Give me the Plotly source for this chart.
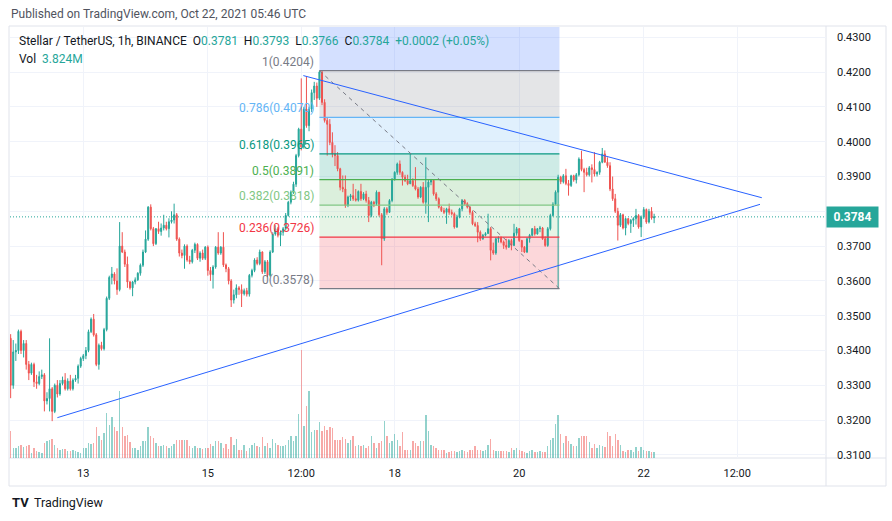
import plotly.graph_objects as go
from datetime import datetime, timedelta

# ---------------- data ----------------
start_time = "2021-10-11 20:00"   # first (partly hidden) hourly candle
first_open = 0.3435

closes = [
    0.3300, 0.3396, 0.3400, 0.3455, 0.3400, 0.3420, 0.3360, 0.3335, 0.3360, 0.3310,
    0.3305, 0.3325, 0.3330, 0.3255, 0.3262, 0.3290, 0.3225, 0.3300, 0.3275, 0.3305,
    0.3315, 0.3290, 0.3312, 0.3290, 0.3315, 0.3320, 0.3355, 0.3377, 0.3385, 0.3400,
    0.3454, 0.3490, 0.3445, 0.3360, 0.3415, 0.3405, 0.3460, 0.3550, 0.3610, 0.3620,
    0.3600, 0.3575, 0.3700, 0.3683, 0.3648, 0.3597, 0.3580, 0.3597, 0.3603, 0.3622,
    0.3645, 0.3683, 0.3720, 0.3812, 0.3750, 0.3707, 0.3750, 0.3742, 0.3752, 0.3760,
    0.3750, 0.3770, 0.3775, 0.3790, 0.3720, 0.3680, 0.3673, 0.3700, 0.3660, 0.3655,
    0.3688, 0.3705, 0.3665, 0.3680, 0.3665, 0.3697, 0.3630, 0.3618, 0.3640, 0.3697,
    0.3680, 0.3697, 0.3646, 0.3635, 0.3600, 0.3545, 0.3560, 0.3580, 0.3575, 0.3563,
    0.3572, 0.3562, 0.3616, 0.3630, 0.3660, 0.3650, 0.3683, 0.3626, 0.3655, 0.3616,
    0.3683, 0.3735, 0.3750, 0.3731, 0.3740, 0.3750, 0.3788, 0.3826, 0.3855, 0.3878,
    0.3960, 0.4036, 0.3985, 0.4094, 0.4046, 0.4094, 0.4141, 0.4160, 0.4125, 0.4200,
    0.4113, 0.4061, 0.4050, 0.3998, 0.3965, 0.3960, 0.3922, 0.3869, 0.3864, 0.3817,
    0.3841, 0.3845, 0.3836, 0.3832, 0.3857, 0.3836, 0.3850, 0.3831, 0.3788, 0.3826,
    0.3822, 0.3855, 0.3790, 0.3721, 0.3807, 0.3797, 0.3831, 0.3893, 0.3912, 0.3936,
    0.3912, 0.3898, 0.3888, 0.3879, 0.3888, 0.3874, 0.3864, 0.3841, 0.3869, 0.3826,
    0.3869, 0.3884, 0.3889, 0.3850, 0.3836, 0.3812, 0.3802, 0.3797, 0.3807, 0.3797,
    0.3793, 0.3755, 0.3783, 0.3807, 0.3831, 0.3822, 0.3812, 0.3797, 0.3764, 0.3759,
    0.3740, 0.3721, 0.3731, 0.3736, 0.3750, 0.3688, 0.3680, 0.3721, 0.3724, 0.3712,
    0.3702, 0.3697, 0.3716, 0.3702, 0.3737, 0.3750, 0.3716, 0.3697, 0.3683, 0.3721,
    0.3731, 0.3750, 0.3735, 0.3750, 0.3752, 0.3721, 0.3702, 0.3750, 0.3788, 0.3820,
    0.3855, 0.3898, 0.3885, 0.3902, 0.3880, 0.3874, 0.3902, 0.3890, 0.3905, 0.3950,
    0.3920, 0.3912, 0.3905, 0.3925, 0.3920, 0.3907, 0.3912, 0.3941, 0.3965, 0.3941,
    0.3931, 0.3864, 0.3836, 0.3800, 0.3760, 0.3790, 0.3752, 0.3779, 0.3765, 0.3774,
    0.3779, 0.3788, 0.3755, 0.3783, 0.3805, 0.3769, 0.3800, 0.3781, 0.3784,
]

highs = [
    0.3447, 0.3430, 0.3420, 0.3460, 0.3460, 0.3430, 0.3430, 0.3370, 0.3365, 0.3365,
    0.3330, 0.3340, 0.3345, 0.3335, 0.3280, 0.3435, 0.3295, 0.3305, 0.3315, 0.3315,
    0.3325, 0.3335, 0.3320, 0.3330, 0.3320, 0.3330, 0.3360, 0.3382, 0.3390, 0.3410,
    0.3460, 0.3495, 0.3505, 0.3450, 0.3420, 0.3425, 0.3465, 0.3555, 0.3615, 0.3640,
    0.3625, 0.3636, 0.3769, 0.3740, 0.3690, 0.3670, 0.3600, 0.3600, 0.3610, 0.3625,
    0.3650, 0.3690, 0.3745, 0.3815, 0.3820, 0.3755, 0.3752, 0.3770, 0.3765, 0.3790,
    0.3770, 0.3780, 0.3800, 0.3822, 0.3795, 0.3725, 0.3690, 0.3705, 0.3705, 0.3672,
    0.3692, 0.3710, 0.3708, 0.3685, 0.3690, 0.3700, 0.3702, 0.3640, 0.3645, 0.3700,
    0.3740, 0.3700, 0.3740, 0.3650, 0.3640, 0.3605, 0.3575, 0.3590, 0.3585, 0.3590,
    0.3578, 0.3580, 0.3620, 0.3635, 0.3665, 0.3668, 0.3690, 0.3685, 0.3660, 0.3660,
    0.3688, 0.3740, 0.3760, 0.3755, 0.3745, 0.3755, 0.3795, 0.3830, 0.3860, 0.3885,
    0.3965, 0.4040, 0.4182, 0.4100, 0.4188, 0.4100, 0.4150, 0.4172, 0.4170, 0.4204,
    0.4204, 0.4122, 0.4070, 0.4065, 0.4027, 0.3990, 0.3970, 0.3925, 0.3903, 0.3903,
    0.3845, 0.3850, 0.3879, 0.3864, 0.3860, 0.3879, 0.3855, 0.3859, 0.3841, 0.3830,
    0.3830, 0.3860, 0.3850, 0.3795, 0.3812, 0.3812, 0.3835, 0.3895, 0.3915, 0.3940,
    0.3946, 0.3915, 0.3905, 0.3905, 0.3965, 0.3895, 0.3927, 0.3870, 0.3872, 0.3884,
    0.3955, 0.3890, 0.3893, 0.3890, 0.3855, 0.3840, 0.3815, 0.3810, 0.3810, 0.3822,
    0.3805, 0.3797, 0.3790, 0.3810, 0.3835, 0.3835, 0.3826, 0.3815, 0.3802, 0.3770,
    0.3769, 0.3745, 0.3735, 0.3740, 0.3793, 0.3755, 0.3710, 0.3725, 0.3728, 0.3728,
    0.3716, 0.3721, 0.3720, 0.3721, 0.3764, 0.3755, 0.3752, 0.3718, 0.3700, 0.3725,
    0.3735, 0.3752, 0.3758, 0.3752, 0.3758, 0.3755, 0.3728, 0.3755, 0.3793, 0.3826,
    0.3860, 0.3905, 0.3902, 0.3907, 0.3922, 0.3890, 0.3905, 0.3905, 0.3910, 0.3955,
    0.3974, 0.3925, 0.3925, 0.3930, 0.3935, 0.3970, 0.3915, 0.3945, 0.3982, 0.3975,
    0.3955, 0.3941, 0.3900, 0.3850, 0.3810, 0.3795, 0.3793, 0.3782, 0.3780, 0.3778,
    0.3783, 0.3807, 0.3792, 0.3788, 0.3812, 0.3808, 0.3807, 0.3812, 0.3793,
]

lows = [
    0.3263, 0.3290, 0.3370, 0.3390, 0.3390, 0.3380, 0.3345, 0.3315, 0.3330, 0.3295,
    0.3290, 0.3300, 0.3318, 0.3225, 0.3245, 0.3225, 0.3197, 0.3220, 0.3265, 0.3270,
    0.3300, 0.3285, 0.3285, 0.3285, 0.3285, 0.3310, 0.3305, 0.3350, 0.3370, 0.3375,
    0.3395, 0.3450, 0.3440, 0.3355, 0.3345, 0.3400, 0.3400, 0.3455, 0.3545, 0.3590,
    0.3590, 0.3560, 0.3570, 0.3680, 0.3640, 0.3580, 0.3575, 0.3556, 0.3590, 0.3600,
    0.3615, 0.3640, 0.3680, 0.3715, 0.3745, 0.3700, 0.3703, 0.3735, 0.3730, 0.3745,
    0.3745, 0.3725, 0.3765, 0.3765, 0.3715, 0.3670, 0.3665, 0.3635, 0.3655, 0.3648,
    0.3650, 0.3680, 0.3660, 0.3655, 0.3660, 0.3660, 0.3615, 0.3600, 0.3578, 0.3635,
    0.3675, 0.3675, 0.3640, 0.3625, 0.3590, 0.3525, 0.3535, 0.3550, 0.3560, 0.3525,
    0.3558, 0.3555, 0.3555, 0.3610, 0.3625, 0.3645, 0.3645, 0.3620, 0.3620, 0.3610,
    0.3612, 0.3680, 0.3730, 0.3725, 0.3700, 0.3730, 0.3745, 0.3785, 0.3820, 0.3850,
    0.3870, 0.3955, 0.3975, 0.3980, 0.4040, 0.4030, 0.4085, 0.4120, 0.4100, 0.4120,
    0.4105, 0.4055, 0.3960, 0.3990, 0.3955, 0.3930, 0.3915, 0.3860, 0.3855, 0.3810,
    0.3812, 0.3830, 0.3830, 0.3828, 0.3828, 0.3830, 0.3832, 0.3825, 0.3769, 0.3783,
    0.3812, 0.3817, 0.3785, 0.3645, 0.3715, 0.3790, 0.3795, 0.3826, 0.3888, 0.3905,
    0.3905, 0.3874, 0.3884, 0.3875, 0.3880, 0.3870, 0.3860, 0.3836, 0.3838, 0.3822,
    0.3793, 0.3769, 0.3875, 0.3845, 0.3830, 0.3808, 0.3798, 0.3792, 0.3764, 0.3790,
    0.3788, 0.3750, 0.3752, 0.3780, 0.3800, 0.3818, 0.3808, 0.3790, 0.3760, 0.3755,
    0.3711, 0.3715, 0.3718, 0.3728, 0.3745, 0.3659, 0.3675, 0.3675, 0.3710, 0.3708,
    0.3692, 0.3690, 0.3695, 0.3688, 0.3700, 0.3730, 0.3712, 0.3683, 0.3680, 0.3680,
    0.3710, 0.3728, 0.3730, 0.3733, 0.3740, 0.3718, 0.3698, 0.3698, 0.3745, 0.3785,
    0.3820, 0.3578, 0.3878, 0.3880, 0.3875, 0.3845, 0.3870, 0.3885, 0.3880, 0.3900,
    0.3915, 0.3855, 0.3900, 0.3900, 0.3883, 0.3900, 0.3900, 0.3905, 0.3938, 0.3940,
    0.3925, 0.3858, 0.3830, 0.3795, 0.3716, 0.3755, 0.3748, 0.3731, 0.3760, 0.3738,
    0.3755, 0.3762, 0.3750, 0.3726, 0.3778, 0.3764, 0.3765, 0.3776, 0.3766,
]

# volume in millions
volumes = [
    16, 6, 6, 7, 8, 6.6, 7.4, 8, 3, 6,
    4, 3.4, 3, 9, 10.4, 11, 11.4, 8, 6, 5,
    5.4, 5.4, 4, 4, 5, 4, 3.4, 3, 6, 6,
    9, 8.6, 9, 18.6, 13, 11, 15, 27, 20, 24.6,
    18.6, 16, 40, 18.6, 13, 14, 9.4, 6, 6, 5,
    7, 10.4, 10.4, 18.6, 13.4, 12, 9, 7, 7.4, 8,
    7, 6, 7, 8.6, 11, 11, 11, 11, 10.6, 7,
    6, 7, 6, 6, 5.4, 6, 6, 8.6, 7, 10.4,
    10.4, 9, 6, 8.6, 5.4, 12.4, 8, 11.4, 5, 5,
    8, 4.4, 6, 8, 9, 7, 6.6, 12.4, 7, 9,
    6, 11.6, 9, 8, 7, 7.4, 8, 11, 13.4, 10,
    13, 26.6, 65, 19.4, 31.4, 40, 15.4, 16.6, 16.6, 21.4,
    16, 19, 17, 18.4, 18, 11, 11, 11, 12.6, 11.4,
    9, 11, 13.4, 7.4, 8, 7.4, 8, 6, 7, 13.4,
    9, 6, 9, 10, 22, 13, 9, 10, 14.6, 11,
    7, 15.4, 5, 4.6, 4.6, 10, 9, 7.4, 10, 10,
    25.6, 16, 8, 7, 6, 4.6, 5, 5, 3, 3.4,
    4, 4, 3.4, 4, 5, 4, 3.4, 4.6, 5, 7.4,
    5, 5, 4.4, 5, 8, 11.6, 5, 4.4, 4.4, 4.4,
    4.4, 4.4, 3.8, 6.2, 5, 6.2, 5, 4, 3.4, 3,
    4.4, 5, 3.4, 3.4, 4, 3.4, 3.4, 7, 11, 12.2,
    20.6, 26, 14.6, 8.8, 13.4, 10.4, 8.6, 7, 7.4, 12.2,
    13.4, 13, 13, 9.8, 5.8, 8.6, 5.8, 8, 7, 6.4,
    15.8, 13, 7.4, 14.6, 11, 8, 4.4, 3.8, 5, 5,
    3.4, 6.8, 4.4, 6.8, 5, 4.4, 4.4, 3.8, 3.8,
]

fib_ratio_labels = ["1", "0.786", "0.618", "0.5", "0.382", "0.236", "0"]
fib_prices = [0.4204, 0.4070, 0.3965, 0.3891, 0.3818, 0.3726, 0.3578]
fib_ext_price = 0.4591            # 1.618 level, above the visible range
fib_times = ["2021-10-16 19:00", "2021-10-20 15:30"]

upper_trend_t = ["2021-10-16 12:48", "2021-10-23 21:30"]
upper_trend_p = [0.4190, 0.3839]
lower_trend_t = ["2021-10-12 14:00", "2021-10-23 20:48"]
lower_trend_p = [0.3207, 0.3820]

last_price = 0.3784
price_ticks = [0.31, 0.32, 0.33, 0.34, 0.35, 0.36, 0.37, 0.38, 0.39, 0.40, 0.41, 0.42, 0.43]
time_tickvals = ["2021-10-13", "2021-10-15", "2021-10-16 12:00", "2021-10-18",
                 "2021-10-20", "2021-10-22", "2021-10-23 12:00"]
time_ticktext = ["13", "15", "12:00", "18", "20", "22", "12:00"]

# ---------------- styles ----------------
UP = "#26a69a"
DN = "#ef5350"
UP_VOL = "rgba(38,166,154,0.5)"
DN_VOL = "rgba(239,83,80,0.5)"
GRID = "#f0f3fa"
FRAME = "#e0e3eb"
TXT = "#131722"
FONT = "Roboto, Arial, sans-serif"
fib_line_colors = ["#787b86", "#64b5f6", "#089981", "#4caf50", "#81c784", "#f23645", "#787b86"]
fib_fill_colors = ["rgba(120,123,134,0.2)", "rgba(100,181,246,0.2)", "rgba(8,153,129,0.2)",
                   "rgba(76,175,80,0.2)", "rgba(129,199,132,0.2)", "rgba(242,54,69,0.2)"]
fib_ext_fill = "rgba(41,98,255,0.2)"

t0 = datetime.strptime(start_time, "%Y-%m-%d %H:%M")
times = [t0 + timedelta(hours=k) for k in range(len(closes))]
opens = [first_open] + closes[:-1]
highs_c = [max(h, o, c) for h, o, c in zip(highs, opens, closes)]
lows_c = [min(l, o, c) for l, o, c in zip(lows, opens, closes)]
vol_colors = [UP_VOL if c >= o else DN_VOL for o, c in zip(opens, closes)]

fig = go.Figure()
fig.add_trace(go.Bar(
    x=times, y=volumes, marker=dict(color=vol_colors, line=dict(width=0)),
    width=0.55 * 3600 * 1000, yaxis="y2", hoverinfo="skip", showlegend=False))
fig.add_trace(go.Candlestick(
    x=times, open=opens, high=highs_c, low=lows_c, close=closes,
    increasing=dict(line=dict(color=UP, width=1), fillcolor=UP),
    decreasing=dict(line=dict(color=DN, width=1), fillcolor=DN),
    whiskerwidth=0, hoverinfo="skip", showlegend=False))

shapes = []
# fib fills
shapes.append(dict(type="rect", xref="x", yref="y", x0=fib_times[0], x1=fib_times[1],
                   y0=fib_prices[0], y1=fib_ext_price, fillcolor=fib_ext_fill,
                   line=dict(width=0), layer="between"))
for k in range(len(fib_prices) - 1):
    shapes.append(dict(type="rect", xref="x", yref="y", x0=fib_times[0], x1=fib_times[1],
                       y0=fib_prices[k + 1], y1=fib_prices[k], fillcolor=fib_fill_colors[k],
                       line=dict(width=0), layer="between"))
# last price dotted line
shapes.append(dict(type="line", xref="paper", yref="y", x0=0, x1=1, y0=last_price, y1=last_price,
                   line=dict(color=UP, width=1, dash="1px,2px"), layer="between"))
for k, p in enumerate(fib_prices):
    shapes.append(dict(type="line", xref="x", yref="y", x0=fib_times[0], x1=fib_times[1],
                       y0=p, y1=p, line=dict(color=fib_line_colors[k], width=1.2), layer="above"))
shapes.append(dict(type="line", xref="x", yref="y", x0=fib_times[0], x1=fib_times[1],
                   y0=fib_prices[0], y1=fib_prices[-1],
                   line=dict(color="#787b86", width=1, dash="4px,4px"), layer="above"))
for tt, pp in ((upper_trend_t, upper_trend_p), (lower_trend_t, lower_trend_p)):
    shapes.append(dict(type="line", xref="x", yref="y", x0=tt[0], x1=tt[1], y0=pp[0], y1=pp[1],
                       line=dict(color="#2962ff", width=1), layer="above"))

# frame (paper coords; plot area spans x 10..826, y 27..458 px)
PW, PH = 816.0, 431.0
def px(x):
    return (x - 10) / PW
def py(y):
    return (458 - y) / PH
shapes.append(dict(type="rect", xref="paper", yref="paper", x0=px(9), x1=px(886), y0=py(486), y1=py(26),
                   line=dict(color=FRAME, width=1), layer="below"))
shapes.append(dict(type="line", xref="paper", yref="paper", x0=1, x1=1, y0=py(486), y1=py(26),
                   line=dict(color=FRAME, width=1), layer="below"))
shapes.append(dict(type="line", xref="paper", yref="paper", x0=px(9), x1=px(886), y0=0, y1=0,
                   line=dict(color=FRAME, width=1), layer="below"))

annotations = []
for k, (lab, p) in enumerate(zip(fib_ratio_labels, fib_prices)):
    annotations.append(dict(xref="x", yref="y", x=fib_times[0], y=p, xanchor="right", yanchor="bottom",
                            xshift=-3, yshift=0, showarrow=False,
                            text=f"{lab}({p:.4f})",
                            font=dict(family=FONT, size=12, color=fib_line_colors[k])))

annotations.append(dict(xref="paper", yref="paper", x=px(9), y=py(14), xanchor="left", yanchor="middle",
                        showarrow=False, text="Published on TradingView.com, Oct 22, 2021 05:46 UTC",
                        font=dict(family=FONT, size=12, color="#50535e")))

def val(s):
    return f"<span style='color:{UP}'>{s}</span>"
legend_text = ("Stellar / TetherUS, 1h, BINANCE&nbsp;&nbsp;O" + val("0.3781") + "&nbsp;&nbsp;H" + val("0.3793")
               + "&nbsp;&nbsp;L" + val("0.3766") + "&nbsp;&nbsp;C" + val("0.3784") + "&nbsp;&nbsp;"
               + val("+0.0002 (+0.05%)"))
annotations.append(dict(xref="paper", yref="paper", x=px(17), y=py(41), xanchor="left", yanchor="middle",
                        showarrow=False, text=legend_text, font=dict(family=FONT, size=12, color=TXT)))
annotations.append(dict(xref="paper", yref="paper", x=px(17), y=py(59), xanchor="left", yanchor="middle",
                        showarrow=False, text="Vol&nbsp;&nbsp;" + val("3.824M"),
                        font=dict(family=FONT, size=12, color=TXT)))
annotations.append(dict(xref="paper", yref="y", x=1, y=last_price, xanchor="left", yanchor="middle",
                        showarrow=False, text=f"<b>{last_price:.4f}</b>", bgcolor=UP, borderpad=3,
                        width=45, height=14, font=dict(family=FONT, size=12, color="white")))
annotations.append(dict(xref="paper", yref="paper", x=px(10), y=py(503), xanchor="left", yanchor="middle",
                        showarrow=False, text="<b>TV</b>",
                        font=dict(family=FONT, size=13, color=TXT)))
annotations.append(dict(xref="paper", yref="paper", x=px(32), y=py(503), xanchor="left", yanchor="middle",
                        showarrow=False, text="TradingView",
                        font=dict(family=FONT, size=12.5, color=TXT)))

fig.update_layout(
    width=892, height=521,
    margin=dict(l=10, r=66, t=27, b=63),
    paper_bgcolor="white", plot_bgcolor="white",
    boxgap=0.45, bargap=0,
    showlegend=False,
    font=dict(family=FONT, size=11, color=TXT),
    shapes=shapes, annotations=annotations,
    xaxis=dict(type="date", range=["2021-10-11 19:45", "2021-10-24 22:14"],
               tickvals=time_tickvals, ticktext=time_ticktext,
               showgrid=True, gridcolor=GRID, gridwidth=1,
               showline=False, zeroline=False, ticks="", ticklabelstandoff=7,
               rangeslider=dict(visible=False), tickfont=dict(size=11, color=TXT)),
    yaxis=dict(side="right", range=[0.30911, 0.43296], tickvals=price_ticks,
               ticktext=[f"{v:.4f}" for v in price_ticks],
               showgrid=True, gridcolor=GRID, gridwidth=1, zeroline=False,
               showline=False, ticks="", ticklabelstandoff=10,
               tickfont=dict(size=11, color=TXT)),
    yaxis2=dict(overlaying="y", range=[0, 258.6], visible=False, fixedrange=True),
)

fig.write_html("out.html")
